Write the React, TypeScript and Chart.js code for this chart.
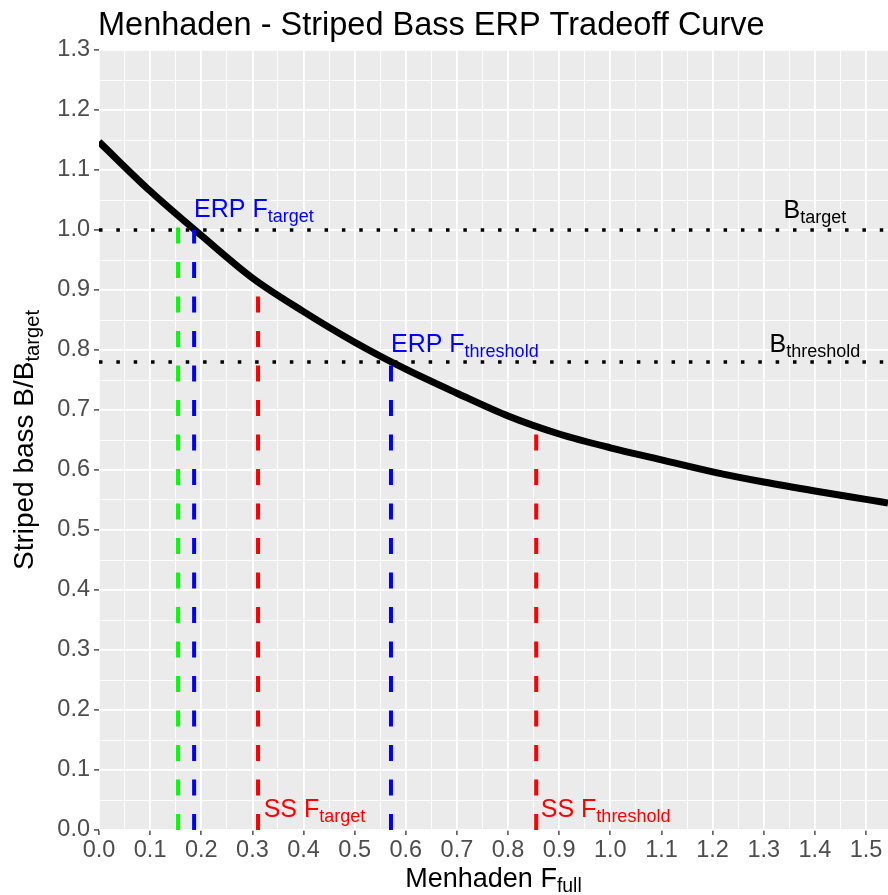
import React, { useEffect, useRef } from 'react';
import { Chart, registerables } from 'chart.js';
Chart.register(...registerables);

const FONT = '"Liberation Sans", Arial, Helvetica, sans-serif';

// Axis ranges
const X_MIN = 0;
const X_MAX = 1.543;
const Y_MIN = 0;
const Y_MAX = 1.3;

// Tradeoff curve (Menhaden F_full vs Striped bass B/B_target)
const curveF = [0, 0.1, 0.2, 0.3, 0.4, 0.5, 0.6, 0.7, 0.8, 0.9, 1.0, 1.1, 1.2, 1.3, 1.4, 1.5, 1.543];
const curveB = [1.147, 1.065, 0.991, 0.92, 0.864, 0.813, 0.768, 0.728, 0.69, 0.66, 0.637, 0.617, 0.597, 0.58, 0.565, 0.551, 0.545];

// Vertical reference lines
const vlineF = [0.1546, 0.186, 0.311, 0.571, 0.855];
const vlineTop = [1.025, 1.0, 0.913, 0.78, 0.672];
const vlineColors = ['#00FF00', '#0000FF', '#FF0000', '#0000FF', '#FF0000'];

// Horizontal reference lines
const hlineB = [1.0, 0.78];

// Annotation labels
const labelMain = ['ERP F', 'ERP F', 'SS F', 'SS F', 'B', 'B'];
const labelSub = ['target', 'threshold', 'target', 'threshold', 'target', 'threshold'];
const labelX = [0.186, 0.571, 0.322, 0.864, 1.4, 1.4];
const labelY = [1.022, 0.797, 0.022, 0.022, 1.02, 0.797];
const labelColors = ['#0000FF', '#0000FF', '#FF0000', '#FF0000', '#000000', '#000000'];
const labelAlign = ['left', 'left', 'left', 'left', 'center', 'center'];

const TITLE = 'Menhaden - Striped Bass ERP Tradeoff Curve';
const X_TITLE_MAIN = 'Menhaden F';
const X_TITLE_SUB = 'full';
const Y_TITLE_MAIN = 'Striped bass B/B';
const Y_TITLE_SUB = 'target';

const isMajor = (v: number) => Math.abs(v * 10 - Math.round(v * 10)) < 1e-6;

function drawSub(ctx: CanvasRenderingContext2D, x: number, y: number, main: string, sub: string, size: number, color: string, align: string) {
  const subSize = size * 0.72;
  ctx.font = `${size}px ${FONT}`;
  const w1 = ctx.measureText(main).width;
  ctx.font = `${subSize}px ${FONT}`;
  const w2 = ctx.measureText(sub).width;
  const x0 = align === 'center' ? x - (w1 + w2) / 2 : x;
  ctx.fillStyle = color;
  ctx.textAlign = 'left';
  ctx.textBaseline = 'alphabetic';
  ctx.font = `${size}px ${FONT}`;
  ctx.fillText(main, x0, y);
  ctx.font = `${subSize}px ${FONT}`;
  ctx.fillText(sub, x0 + w1, y + size * 0.2);
}

const ggPlugin = {
  id: 'ggTheme',
  beforeDraw(chart: any) {
    const { ctx, chartArea: a } = chart;
    ctx.save();
    ctx.fillStyle = '#EBEBEB';
    ctx.fillRect(a.left, a.top, a.right - a.left, a.bottom - a.top);
    ctx.restore();
  },
  afterDraw(chart: any) {
    const { ctx, chartArea: a } = chart;
    const xs = chart.scales.x;
    const ys = chart.scales.y;
    ctx.save();
    // title
    ctx.font = `32.5px ${FONT}`;
    ctx.fillStyle = '#000000';
    ctx.textAlign = 'left';
    ctx.textBaseline = 'alphabetic';
    ctx.fillText(TITLE, a.left - 1, 35);
    // x title
    drawSub(ctx, (a.left + a.right) / 2, 887, X_TITLE_MAIN, X_TITLE_SUB, 27, '#000000', 'center');
    // y title
    ctx.save();
    ctx.translate(33, (a.top + a.bottom) / 2);
    ctx.rotate(-Math.PI / 2);
    drawSub(ctx, 0, 0, Y_TITLE_MAIN, Y_TITLE_SUB, 28, '#000000', 'center');
    ctx.restore();
    // annotations
    for (let i = 0; i < labelMain.length; i++) {
      drawSub(ctx, xs.getPixelForValue(labelX[i]), ys.getPixelForValue(labelY[i]), labelMain[i], labelSub[i], 25, labelColors[i], labelAlign[i]);
    }
    ctx.restore();
  },
};

export default function App() {
  const ref = useRef<HTMLCanvasElement>(null);
  useEffect(() => {
    document.body.style.margin = '0';
    const datasets: any[] = [];
    datasets.push({
      data: curveF.map((f, i) => ({ x: f, y: curveB[i] })),
      borderColor: '#000000',
      borderWidth: 7,
      pointRadius: 0,
      showLine: true,
      cubicInterpolationMode: 'monotone',
      order: 3,
    });
    hlineB.forEach((b) => {
      datasets.push({
        data: [{ x: X_MIN, y: b }, { x: X_MAX, y: b }],
        borderColor: '#000000',
        borderWidth: 3.5,
        borderDash: [3.5, 13.85],
        borderCapStyle: 'butt',
        pointRadius: 0,
        showLine: true,
        order: 2,
      });
    });
    vlineF.forEach((f, i) => {
      datasets.push({
        data: [{ x: f, y: 0 }, { x: f, y: vlineTop[i] }],
        borderColor: vlineColors[i],
        borderWidth: 4,
        borderDash: [16, 18.5],
        borderCapStyle: 'butt',
        pointRadius: 0,
        showLine: true,
        order: 1,
      });
    });

    const gridCommon = () => ({
      color: '#FFFFFF',
      lineWidth: (c: any) => (c.tick && isMajor(c.tick.value) ? 1.8 : 0.9),
      tickColor: (c: any) => (c.tick && isMajor(c.tick.value) ? '#333333' : 'rgba(0,0,0,0)'),
      tickWidth: 1.3,
      tickLength: 5,
      drawTicks: true,
    });

    const chart = new Chart(ref.current!, {
      type: 'scatter',
      data: { datasets },
      plugins: [ggPlugin],
      options: {
        animation: false,
        responsive: false,
        events: [],
        layout: { padding: { top: 50, right: 0, bottom: 0, left: 0 } },
        plugins: { legend: { display: false }, tooltip: { enabled: false }, title: { display: false } },
        scales: {
          x: {
            type: 'linear',
            min: X_MIN,
            max: X_MAX,
            border: { display: false },
            grid: gridCommon() as any,
            afterFit: (s: any) => { s.height = 65; },
            ticks: {
              stepSize: 0.05,
              includeBounds: false,
              autoSkip: false,
              maxRotation: 0,
              padding: 1,
              color: '#4D4D4D',
              font: { family: FONT, size: 23.5 },
              callback: (v: any) => (isMajor(Number(v)) ? Number(v).toFixed(1) : ''),
            },
          },
          y: {
            type: 'linear',
            min: Y_MIN,
            max: Y_MAX,
            border: { display: false },
            grid: gridCommon() as any,
            afterFit: (s: any) => { s.width = 99; },
            ticks: {
              stepSize: 0.05,
              autoSkip: false,
              padding: 4,
              color: '#4D4D4D',
              font: { family: FONT, size: 23.5 },
              callback: (v: any) => (isMajor(Number(v)) ? Number(v).toFixed(1) : ''),
            },
          },
        },
      } as any,
    });
    return () => chart.destroy();
  }, []);
  return <canvas ref={ref} width={888} height={895} style={{ display: 'block', width: 888, height: 895 }} />;
}
